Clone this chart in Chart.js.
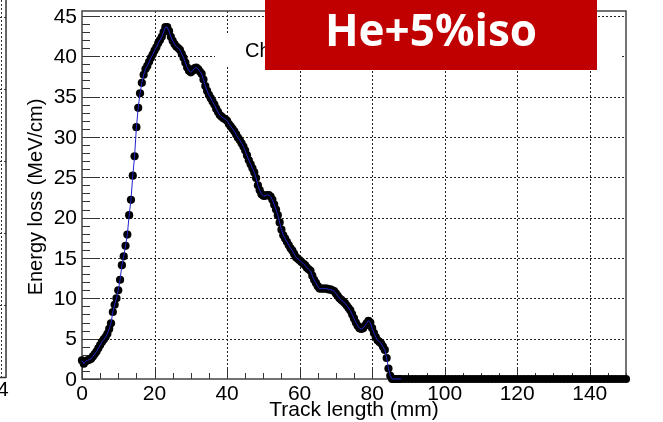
<!DOCTYPE html>
<html>
<head>
<meta charset="utf-8">
<script src="https://cdn.jsdelivr.net/npm/chart.js@4.4.1/dist/chart.umd.min.js"></script>
<style>
    html, body { margin: 0; padding: 0; background: #fff; }
    #wrap { width: 663px; height: 422px; }
</style>
</head>
<body>
<div id="wrap"><canvas id="myChart" width="663" height="422"></canvas></div>
<script>
const ctx = document.getElementById('myChart');

// track length (mm) and energy loss (MeV/cm)
const trackX = [
    0, 0.5, 1, 1.5, 2, 2.5, 3, 3.5, 4, 4.5, 5, 5.5, 6, 6.5, 7, 7.5, 8, 8.5, 9, 9.5,
    10, 10.5, 11, 11.5, 12, 12.5, 13, 13.5, 14, 14.5, 15, 15.5, 16, 16.5, 17, 17.5, 18, 18.5, 19, 19.5,
    20, 20.5, 21, 21.5, 22, 22.5, 23, 23.5, 24, 24.5, 25, 25.5, 26, 26.5, 27, 27.5, 28, 28.5, 29, 29.5,
    30, 30.5, 31, 31.5, 32, 32.5, 33, 33.5, 34, 34.5, 35, 35.5, 36, 36.5, 37, 37.5, 38, 38.5, 39, 39.5,
    40, 40.5, 41, 41.5, 42, 42.5, 43, 43.5, 44, 44.5, 45, 45.5, 46, 46.5, 47, 47.5, 48, 48.5, 49, 49.5,
    50, 50.5, 51, 51.5, 52, 52.5, 53, 53.5, 54, 54.5, 55, 55.5, 56, 56.5, 57, 57.5, 58, 58.5, 59, 59.5,
    60, 60.5, 61, 61.5, 62, 62.5, 63, 63.5, 64, 64.5, 65, 65.5, 66, 66.5, 67, 67.5, 68, 68.5, 69, 69.5,
    70, 70.5, 71, 71.5, 72, 72.5, 73, 73.5, 74, 74.5, 75, 75.5, 76, 76.5, 77, 77.5, 78, 78.5, 79, 79.5,
    80, 80.5, 81, 81.5, 82, 82.5, 83, 83.5, 84, 84.5, 85, 85.5, 86, 86.5, 87, 87.5, 88
];
const energyLoss = [
    2.3, 1.9, 2.2, 2.3, 2.4, 2.5, 2.8, 3.1, 3.4, 3.8, 4.2, 4.6, 4.9, 5.2, 5.6, 6.2, 6.9, 8.3, 9.2, 10.0,
    11.0, 12.3, 14.1, 15.2, 16.5, 17.9, 20.3, 22.2, 25.2, 27.6, 31.2, 33.6, 35.4, 36.7, 37.7, 38.4, 38.8, 39.3, 39.8, 40.2,
    40.7, 41.1, 41.6, 42.0, 42.4, 43.0, 43.6, 43.6, 43.1, 42.4, 41.9, 41.5, 41.2, 41.0, 40.8, 40.3, 39.8, 39.2, 38.6, 38.2,
    38.0, 38.2, 38.5, 38.6, 38.4, 38.1, 37.8, 37.1, 36.3, 35.7, 35.2, 34.8, 34.4, 34.0, 33.5, 33.1, 32.7, 32.5, 32.3, 32.2,
    32.0, 31.6, 31.3, 31.0, 30.7, 30.3, 29.9, 29.6, 29.2, 28.8, 28.3, 27.7, 27.1, 26.6, 26.1, 25.6, 24.9, 24.0, 23.4, 22.9,
    22.7, 22.7, 22.8, 22.8, 22.6, 22.2, 21.6, 21.0, 20.3, 19.4, 18.5, 17.8, 17.4, 17.0, 16.6, 16.2, 15.9, 15.5, 15.1, 14.9,
    14.7, 14.5, 14.3, 14.1, 13.8, 13.6, 13.4, 12.8, 12.3, 11.9, 11.5, 11.2, 11.2, 11.2, 11.2, 11.2, 11.1, 11.1, 11.0, 10.9,
    10.6, 10.3, 10.0, 9.8, 9.6, 9.4, 9.1, 8.8, 8.5, 8.0, 7.5, 7.0, 6.6, 6.3, 6.2, 6.3, 6.6, 6.9, 7.2, 7.0,
    6.3, 5.7, 5.2, 4.8, 4.6, 4.4, 4.0, 3.6, 2.6, 1.3, 0.4, 0, 0, 0, 0, 0, 0
];
// empty points after the end of the track
const tailX = [
    89, 90, 91, 92, 93, 94, 95, 96, 97, 98, 99, 100, 101, 102, 103, 104, 105, 106, 107, 108, 109,
    110, 111, 112, 113, 114, 115, 116, 117, 118, 119, 120, 121, 122, 123, 124, 125, 126, 127, 128, 129,
    130, 131, 132, 133, 134, 135, 136, 137, 138, 139, 140, 141, 142, 143, 144, 145, 146, 147, 148, 149, 150
];
const tailLoss = [
    0, 0, 0, 0, 0, 0, 0, 0, 0, 0, 0, 0, 0, 0, 0, 0, 0, 0, 0, 0, 0,
    0, 0, 0, 0, 0, 0, 0, 0, 0, 0, 0, 0, 0, 0, 0, 0, 0, 0, 0, 0,
    0, 0, 0, 0, 0, 0, 0, 0, 0, 0, 0, 0, 0, 0, 0, 0, 0, 0, 0, 0, 0
];
const xTickLabels = [0, 20, 40, 60, 80, 100, 120, 140];
const yTickLabels = [0, 5, 10, 15, 20, 25, 30, 35, 40, 45];

const curvePoints = trackX.map((x, i) => ({ x: x, y: energyLoss[i] }));
const tailPoints = tailX.map((x, i) => ({ x: x, y: tailLoss[i] }));

function seg(c, x1, y1, x2, y2) {
    c.beginPath();
    c.moveTo(x1, y1);
    c.lineTo(x2, y2);
    c.stroke();
}

const rootFrame = {
    id: 'rootFrame',
    beforeDatasetsDraw(chart) {
        const c = chart.ctx;
        const a = chart.chartArea;
        const xs = chart.scales.x;
        const ys = chart.scales.y;
        c.save();

        // dotted grid
        c.strokeStyle = '#222';
        c.lineWidth = 1;
        c.setLineDash([2, 2]);
        xTickLabels.forEach(v => {
            if (v === 0) return;
            const px = Math.round(xs.getPixelForValue(v)) + 0.5;
            seg(c, px, a.top, px, a.bottom);
        });
        yTickLabels.forEach(v => {
            if (v === 0) return;
            const py = Math.round(ys.getPixelForValue(v)) + 0.5;
            seg(c, a.left, py, a.right, py);
        });
        c.setLineDash([]);

        // title box, mostly hidden by the label
        c.fillStyle = '#fff';
        c.fillRect(215, 33, 405, 34);
        c.fillStyle = '#000';
        c.font = '20px "Liberation Sans"';
        c.textAlign = 'left';
        c.textBaseline = 'middle';
        c.fillText('Ch', 245, 51);

        // tick marks
        c.strokeStyle = '#333';
        c.lineWidth = 1;
        for (let v = 0; v <= 45; v++) {
            const py = Math.round(ys.getPixelForValue(v)) + 0.5;
            seg(c, a.left, py, a.left + (v % 5 === 0 ? 18 : 8), py);
        }
        for (let v = 0; v <= 150; v += 5) {
            const px = Math.round(xs.getPixelForValue(v)) + 0.5;
            seg(c, px, a.bottom, px, a.bottom - (v % 20 === 0 ? 12 : 6));
        }

        // frame
        c.strokeStyle = '#444';
        c.lineWidth = 1.5;
        c.strokeRect(a.left, a.top, a.right - a.left, a.bottom - a.top);

        // tick labels
        c.fillStyle = '#000';
        c.font = '21px "Liberation Sans"';
        c.textAlign = 'right';
        c.textBaseline = 'middle';
        yTickLabels.forEach(v => {
            c.fillText(String(v), a.left - 5, ys.getPixelForValue(v) + 1);
        });
        c.textAlign = 'center';
        c.textBaseline = 'top';
        xTickLabels.forEach(v => {
            c.fillText(String(v), xs.getPixelForValue(v), a.bottom + 5);
        });

        // axis titles
        c.font = '21px "Liberation Sans"';
        c.textBaseline = 'alphabetic';
        c.fillText('Track length (mm)', 354, 416);
        c.save();
        c.translate(42, 197);
        c.rotate(-Math.PI / 2);
        c.font = '20px "Liberation Sans"';
        c.fillText('Energy loss (MeV/cm)', 0, 0);
        c.restore();

        // edge of the neighbouring panel
        c.strokeStyle = '#333';
        c.lineWidth = 1;
        c.setLineDash([2, 2]);
        seg(c, 1.5, 0, 1.5, 377);
        [17, 89, 161, 233, 305].forEach(py => seg(c, 0, py + 0.5, 8, py + 0.5));
        c.setLineDash([]);
        c.lineWidth = 1.5;
        seg(c, 6, 0, 6, 378);
        seg(c, 0, 377.5, 6, 377.5);
        c.save();
        c.beginPath();
        c.rect(0, 378, 9, 30);
        c.clip();
        c.font = '21px "Liberation Sans"';
        c.textAlign = 'left';
        c.textBaseline = 'top';
        c.fillText('40', -3, 380);
        c.restore();

        c.restore();
    },
    afterDatasetsDraw(chart) {
        const c = chart.ctx;
        c.save();
        c.fillStyle = '#c00000';
        c.fillRect(265, 0, 332, 70);
        c.fillStyle = '#fff';
        c.font = 'bold 44px "Open Sans"';
        c.textAlign = 'center';
        c.textBaseline = 'alphabetic';
        c.fillText('He+5%iso', 431, 46);
        c.restore();
    }
};

const data = {
    datasets: [
        {
            label: 'line',
            data: curvePoints,
            showLine: true,
            borderColor: '#2222cc',
            borderWidth: 1,
            pointRadius: 0,
            clip: false,
            order: 1
        },
        {
            label: 'markers',
            data: [...curvePoints, ...tailPoints],
            showLine: false,
            pointRadius: 4.1,
            pointBackgroundColor: '#000',
            pointBorderWidth: 0,
            clip: false,
            order: 2
        }
    ]
};

const config = {
    type: 'scatter',
    data: data,
    plugins: [rootFrame],
    options: {
        responsive: false,
        animation: false,
        devicePixelRatio: 1,
        layout: { padding: { left: 82, right: 37, top: 11, bottom: 43 } },
        plugins: {
            legend: { display: false },
            tooltip: { enabled: false }
        },
        scales: {
            x: { type: 'linear', min: 0, max: 150, display: false },
            y: { type: 'linear', min: 0, max: 45.6, display: false }
        }
    }
};

const chart = new Chart(ctx, config);
</script>
</body>
</html>
